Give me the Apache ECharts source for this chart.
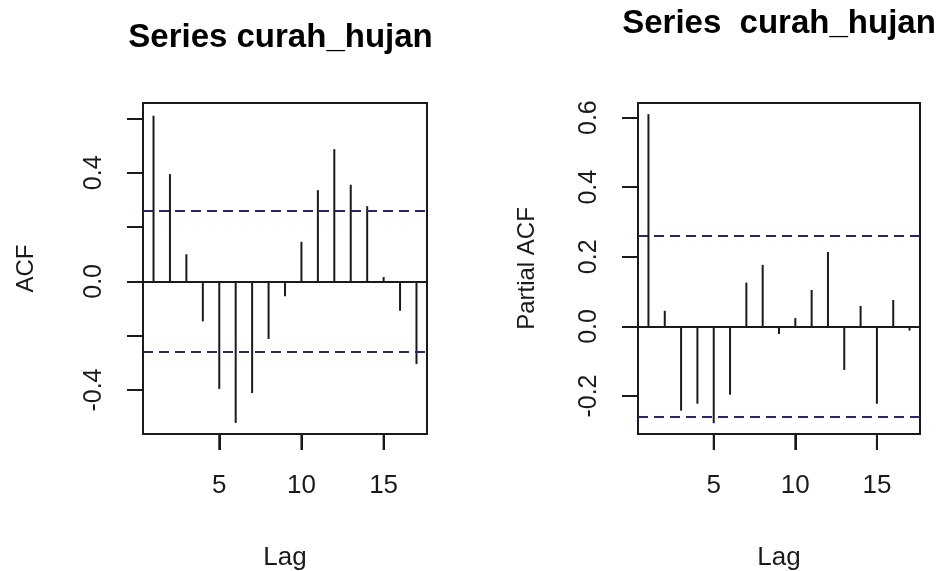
<!DOCTYPE html>
<html><head><meta charset="utf-8">
<script src="https://cdn.jsdelivr.net/npm/echarts@6.0.0/dist/echarts.min.js"></script>
<style>html,body{margin:0;padding:0;background:#fff}#c{width:946px;height:571px}</style>
</head><body><div id="c"></div>
<script>
// ---- data ----
const lags = [1,2,3,4,5,6,7,8,9,10,11,12,13,14,15,16,17];
const acfValues = [0.610,0.395,0.100,-0.147,-0.396,-0.521,-0.411,-0.212,-0.055,0.146,0.336,0.487,0.356,0.277,0.016,-0.108,-0.304];
const pacfValues = [0.610,0.045,-0.242,-0.222,-0.278,-0.196,0.126,0.177,-0.022,0.024,0.105,0.214,-0.125,0.059,-0.222,0.076,-0.012];
const confLimit = 0.255;
const xTickValues = [5,10,15];
const acfYTicks = [-0.4,-0.2,0,0.2,0.4,0.6];
const acfYLabels = [-0.4,0,0.4];
const pacfYTicks = [-0.2,0,0.2,0.4,0.6];
const pacfYLabels = [-0.2,0,0.2,0.4,0.6];
const titles = ['Series curah_hujan','Series  curah_hujan'];
const yNames = ['ACF','Partial ACF'];
const xName = 'Lag';
const acfRange = [-0.562, 0.657];
const pacfRange = [-0.309, 0.642];
const lagRange = [0.36, 17.64];

// ---- styles ----
const FONT = '"Liberation Sans", Arial, sans-serif';
const INK = '#1a1a1a';
const DASH = '#26266e';
const TICK_LEN = 16;

const chart = echarts.init(document.getElementById('c'), null, {renderer:'canvas'});

function xAxisCfg(gi){
  return {
    type:'value', gridIndex:gi, min:lagRange[0], max:lagRange[1], position:'bottom',
    name:xName, nameLocation:'middle', nameGap:111,
    nameTextStyle:{fontFamily:FONT, fontSize:26, color:INK},
    axisLine:{show:true, onZero:false, lineStyle:{color:INK, width:2}},
    splitLine:{show:false},
    axisTick:{show:true, length:TICK_LEN, inside:false, customValues:xTickValues, lineStyle:{color:INK, width:2}},
    axisLabel:{show:true, margin:39, customValues:xTickValues, fontFamily:FONT, fontSize:26, color:INK,
      formatter:v=>String(v)}
  };
}
function yAxisCfg(gi, range, ticks, labels, name, gap){
  return {
    type:'value', gridIndex:gi, min:range[0], max:range[1],
    name:name, nameLocation:'middle', nameGap:gap, nameRotate:90,
    nameTextStyle:{fontFamily:FONT, fontSize:24, color:INK},
    axisLine:{show:true, onZero:false, lineStyle:{color:INK, width:2}},
    splitLine:{show:false},
    axisTick:{show:true, length:TICK_LEN, inside:false, customValues:ticks, lineStyle:{color:INK, width:2}},
    axisLabel:{show:true, rotate:90, margin:36, customValues:labels, fontFamily:FONT, fontSize:25, color:INK,
      formatter:v=>Number(v).toFixed(1)}
  };
}
function seriesCfg(gi, values){
  return {
    type:'bar', xAxisIndex:gi, yAxisIndex:gi,
    data: lags.map((l,i)=>[l, values[i]]),
    barWidth:2,
    itemStyle:{color:INK},
    silent:true,
    markLine:{
      silent:true, symbol:['none','none'], label:{show:false}, animation:false,
      data:[
        {yAxis:0, lineStyle:{color:INK, type:'solid', width:2}},
        {yAxis:confLimit, lineStyle:{color:DASH, type:[10,6], width:2}},
        {yAxis:-confLimit, lineStyle:{color:DASH, type:[10,6], width:2}}
      ]
    }
  };
}
// x-axis tick marks below the box, placed through the axis scales
function xTickSeries(gi, yMin){
  return {
    type:'custom', xAxisIndex:gi, yAxisIndex:gi, silent:true, clip:false, z:10,
    data: xTickValues.map(v=>[v, yMin]),
    renderItem:(params, api)=>{
      const p = api.coord([api.value(0), api.value(1)]);
      return {type:'line', shape:{x1:p[0], y1:p[1], x2:p[0], y2:p[1]+TICK_LEN},
        style:{stroke:INK, lineWidth:2}};
    }
  };
}

const option = {
  backgroundColor:'#ffffff',
  animation:false,
  grid:[
    {left:143, top:103, width:284, height:331, show:true, borderColor:INK, borderWidth:2, backgroundColor:'transparent', containLabel:false, outerBoundsMode:'none'},
    {left:638, top:103, width:282, height:331, show:true, borderColor:INK, borderWidth:2, backgroundColor:'transparent', containLabel:false, outerBoundsMode:'none'}
  ],
  xAxis:[xAxisCfg(0), xAxisCfg(1)],
  yAxis:[
    yAxisCfg(0, acfRange, acfYTicks, acfYLabels, yNames[0], 105),
    yAxisCfg(1, pacfRange, pacfYTicks, pacfYLabels, yNames[1], 99)
  ],
  series:[seriesCfg(0, acfValues), seriesCfg(1, pacfValues), xTickSeries(0, acfRange[0]), xTickSeries(1, pacfRange[0])],
  graphic:[
    {type:'text', x:280.5, y:38, silent:true,
      style:{text:titles[0], font:'bold 33px ' + FONT, fill:'#000', align:'center', verticalAlign:'middle'}},
    {type:'text', x:779, y:24, silent:true,
      style:{text:titles[1], font:'bold 33px ' + FONT, fill:'#000', align:'center', verticalAlign:'middle'}}
  ]
};
chart.setOption(option);
</script>
</body></html>
